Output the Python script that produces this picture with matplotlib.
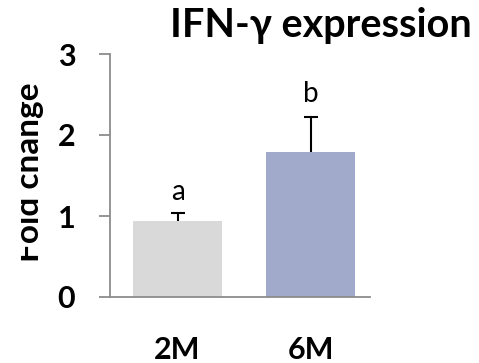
import matplotlib
matplotlib.use('Agg')
import matplotlib.pyplot as plt
from matplotlib.transforms import Bbox, TransformedBbox

plt.rcParams['font.family'] = ['Lato', 'DejaVu Sans']

# data
groups = ['2M', '6M']
fold_change = [0.94, 1.79]
err_up = [0.10, 0.43]
letters = ['a', 'b']
letter_y = [1.20, 2.41]
bar_colors = ['#D9D9D9', '#A2AACB']

fig = plt.figure(figsize=(4.79, 3.63), dpi=100)
ax = fig.add_axes([110/479, 66/363, 260/479, 243/363])

x = list(range(len(groups)))
ax.bar(x, fold_change, width=0.67, color=bar_colors)
eb = ax.errorbar(x, fold_change, yerr=[[0]*len(err_up), err_up], fmt='none',
                 ecolor='black', elinewidth=1.5, capthick=1.5, capsize=4.7)
eb[1][0].set_visible(False)  # no lower cap

for i, (t, ly) in enumerate(zip(letters, letter_y)):
    ax.text(i, ly, t, ha='center', va='baseline', fontsize=20)

ax.set_xlim(-0.508, 1.447)
ax.set_ylim(0, 3)
ax.set_yticks([0, 1, 2, 3])
ax.set_xticks(x)
ax.set_xticklabels(groups)

for s in ['top', 'right']:
    ax.spines[s].set_visible(False)
for s in ['left', 'bottom']:
    ax.spines[s].set_color('#8C8C8C')
    ax.spines[s].set_linewidth(1.3)

ax.tick_params(axis='y', direction='out', length=8, width=1.3, color='#8C8C8C',
               pad=17, labelsize=22)
ax.tick_params(axis='x', length=0, pad=28, labelsize=22)
for lab in ax.get_xticklabels() + ax.get_yticklabels():
    lab.set_fontweight('bold')

ylab = fig.text(44/479, 1 - 172/363, 'Fold change', rotation=90, ha='right',
                va='center', fontsize=24, fontweight='bold')
ylab.set_clip_box(TransformedBbox(Bbox([[21/479, 0], [1, 1]]), fig.transFigure))
ylab.set_clip_on(True)

fig.text(321/479, 1 - 25/363, 'IFN-γ expression', ha='center', va='center',
         fontsize=28.5, fontweight='bold')

fig.savefig('out.png', dpi=100)
